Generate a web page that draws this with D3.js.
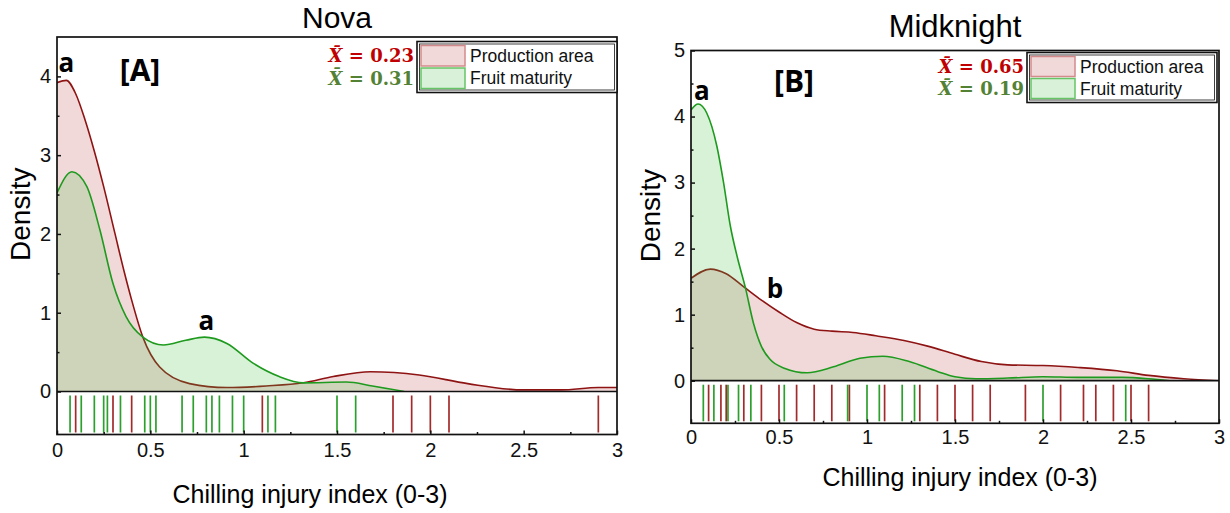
<!DOCTYPE html>
<html>
<head>
<meta charset="utf-8">
<script src="https://cdnjs.cloudflare.com/ajax/libs/d3/7.8.5/d3.min.js"></script>
<style>
  body { margin: 0; background: #fff; }
  svg text { font-family: "Liberation Sans", Arial, sans-serif; }
</style>
</head>
<body>
<div id="visual"></div>
<script>
// ---- data ----
const seriesNames = ["Production area", "Fruit maturity"];
const panelTitles = ["Nova", "Midknight"];
const panelTags = ["[A]", "[B]"];
const xTicks = [0, 0.5, 1, 1.5, 2, 2.5, 3];
const xTickLabels = ["0", "0.5", "1", "1.5", "2", "2.5", "3"];

// Nova density curves
const novaProdX = [0, 0.05, 0.10, 0.15, 0.20, 0.25, 0.31, 0.36, 0.40, 0.46, 0.55, 0.71, 0.91, 1.12, 1.32, 1.48, 1.68, 1.94, 2.2, 2.5, 2.7, 2.9, 3.0];
const novaProdY = [3.92, 3.95, 3.78, 3.45, 3.05, 2.60, 2.01, 1.52, 1.16, 0.69, 0.31, 0.10, 0.05, 0.07, 0.11, 0.19, 0.25, 0.21, 0.10, 0.02, 0.02, 0.05, 0.05];
const novaMatX = [0, 0.08, 0.16, 0.23, 0.30, 0.37, 0.46, 0.57, 0.69, 0.79, 0.91, 1.05, 1.19, 1.32, 1.55, 1.69, 1.86];
const novaMatY = [2.52, 2.79, 2.60, 2.05, 1.37, 0.95, 0.69, 0.59, 0.65, 0.69, 0.61, 0.36, 0.19, 0.11, 0.12, 0.07, 0.0];
// Nova rug (observations)
const novaProdRug = [0.10, 0.30, 0.40, 1.10, 1.80, 1.90, 2.00, 2.10, 2.90];
const novaMatRug = [0.07, 0.13, 0.20, 0.25, 0.27, 0.34, 0.47, 0.50, 0.53, 0.67, 0.73, 0.80, 0.83, 0.87, 0.94, 1.00, 1.13, 1.17, 1.50, 1.60];

// Midknight density curves
const midProdX = [0, 0.11, 0.20, 0.30, 0.40, 0.50, 0.60, 0.70, 0.80, 0.92, 1.05, 1.21, 1.35, 1.50, 1.65, 1.80, 2.0, 2.2, 2.42, 2.6, 2.8, 3.0];
const midProdY = [1.55, 1.69, 1.62, 1.42, 1.22, 1.04, 0.88, 0.78, 0.75, 0.73, 0.68, 0.61, 0.52, 0.40, 0.29, 0.24, 0.23, 0.20, 0.15, 0.08, 0.03, 0.0];
const midMatX = [0, 0.04, 0.09, 0.147, 0.185, 0.223, 0.265, 0.308, 0.355, 0.40, 0.45, 0.53, 0.66, 0.81, 0.96, 1.09, 1.24, 1.40, 1.50, 1.62, 1.80, 2.0, 2.2, 2.45, 2.6, 2.72];
const midMatY = [4.10, 4.19, 4.05, 3.55, 3.0, 2.35, 1.85, 1.42, 0.87, 0.52, 0.32, 0.19, 0.12, 0.21, 0.34, 0.37, 0.29, 0.14, 0.06, 0.03, 0.04, 0.06, 0.05, 0.05, 0.03, 0.0];
// Midknight rug
const midProdRug = [0.10, 0.17, 0.20, 0.30, 0.40, 0.50, 0.60, 0.70, 0.80, 0.90, 1.10, 1.30, 1.40, 1.50, 1.60, 1.70, 1.90, 2.10, 2.23, 2.30, 2.40, 2.50, 2.60];
const midMatRug = [0.07, 0.13, 0.21, 0.27, 0.34, 0.53, 0.89, 1.00, 1.07, 1.20, 1.27, 2.00, 2.47];

// means shown in the legend
const novaMeans = ["0.23", "0.31"];
const midMeans = ["0.65", "0.19"];

// significance letters: [x, y, letter]
const novaLetters = [[0.05, 4.05, "a"], [0.80, 0.78, "a"]];
const midLetters = [[0.062, 4.25, "a"], [0.477, 1.25, "b"]];

const COLORS = {
    prodLine: "#8e1414",
    prodFill: "rgba(200,95,95,0.24)",
    prodRug: "#a32a2a",
    matLine: "#1e9a1e",
    matFill: "rgba(70,195,70,0.21)",
    matRug: "#2ca02c",
    meanProd: "#c00000",
    meanMat: "#548235"
};

const svg = d3.select("#visual")
    .append("svg")
    .attr("width", 1230)
    .attr("height", 513);

function drawPanel(p) {
    let x = d3.scaleLinear().domain([0, 3]).range([p.left, p.right]);
    let y = d3.scaleLinear().domain([0, p.yMax]).range([p.zero, p.top]);
    let g = svg.append("g");

    let clipId = "clip" + p.id;
    g.append("clipPath").attr("id", clipId)
        .append("rect")
        .attr("x", p.left).attr("y", p.top)
        .attr("width", p.right - p.left).attr("height", p.zero - p.top);

    let curves = [
        {xs: p.prodX, ys: p.prodY, fill: COLORS.prodFill, line: COLORS.prodLine},
        {xs: p.matX, ys: p.matY, fill: COLORS.matFill, line: COLORS.matLine}
    ];

    let area = d3.area()
        .x(d => x(d[0]))
        .y0(y(0))
        .y1(d => y(d[1]))
        .curve(d3.curveMonotoneX);
    let line = d3.line()
        .x(d => x(d[0]))
        .y(d => y(d[1]))
        .curve(d3.curveMonotoneX);

    let plot = g.append("g").attr("clip-path", "url(#" + clipId + ")");
    curves.forEach(function (c) {
        let pts = c.xs.map((v, i) => [v, c.ys[i]]);
        plot.append("path").attr("d", area(pts)).attr("fill", c.fill);
        plot.append("path").attr("d", line(pts))
            .attr("fill", "none")
            .attr("stroke", c.line)
            .attr("stroke-width", 1.6);
    });

    // rug strip
    let rugs = [
        {vals: p.prodRug, color: COLORS.prodRug},
        {vals: p.matRug, color: COLORS.matRug}
    ];
    rugs.forEach(function (r) {
        g.selectAll(null)
            .data(r.vals)
            .enter().append("line")
            .attr("x1", d => x(d)).attr("x2", d => x(d))
            .attr("y1", p.zero + 4).attr("y2", p.rugBottom - 2)
            .attr("stroke", r.color)
            .attr("stroke-width", 1.7);
    });

    // frame
    g.append("rect")
        .attr("x", p.left).attr("y", p.top)
        .attr("width", p.right - p.left).attr("height", p.rugBottom - p.top)
        .attr("fill", "none").attr("stroke", "#111").attr("stroke-width", 1.7);
    g.append("line")
        .attr("x1", p.left).attr("x2", p.right)
        .attr("y1", p.zero).attr("y2", p.zero)
        .attr("stroke", "#111").attr("stroke-width", 1.7);

    // y axis, inward ticks
    let yAxis = d3.axisLeft(y).tickValues(p.yTicks).tickFormat(d3.format("d"))
        .tickSize(-4).tickPadding(6);
    let ya = g.append("g").attr("transform", "translate(" + p.left + ",0)").call(yAxis);
    let yMinor = d3.axisLeft(y).tickValues(p.yMinor).tickFormat("").tickSize(-2.5);
    let ym = g.append("g").attr("transform", "translate(" + p.left + ",0)").call(yMinor);

    // x axis at the bottom of the rug strip
    let xAxis = d3.axisBottom(x).tickValues(xTicks)
        .tickFormat((d, i) => xTickLabels[i])
        .tickSize(-4).tickPadding(p.xPad);
    let xa = g.append("g").attr("transform", "translate(0," + p.rugBottom + ")").call(xAxis);
    let xMinor = d3.axisBottom(x).tickValues([0.25, 0.75, 1.25, 1.75, 2.25, 2.75])
        .tickFormat("").tickSize(-2.5);
    let xm = g.append("g").attr("transform", "translate(0," + p.rugBottom + ")").call(xMinor);

    [ya, ym, xa, xm].forEach(function (a) {
        a.select(".domain").remove();
        a.selectAll(".tick line").attr("stroke", "#111").attr("stroke-width", 1.5);
        a.selectAll("text")
            .style("font-size", "20px")
            .style("font-family", "Liberation Sans, Arial, sans-serif")
            .attr("fill", "#111");
    });

    // titles and axis labels
    g.append("text")
        .attr("x", (p.left + p.right) / 2).attr("y", p.titleY)
        .attr("text-anchor", "middle")
        .style("font-size", p.titleSize + "px")
        .text(p.title);

    g.append("text")
        .attr("transform", "translate(" + p.yLabelX + "," + (p.top + p.zero) / 2 + ") rotate(-90)")
        .attr("text-anchor", "middle")
        .attr("dy", "0.35em")
        .style("font-size", "28px")
        .text("Density");

    g.append("text")
        .attr("x", p.xLabelX).attr("y", p.xLabelY)
        .attr("text-anchor", "middle")
        .style("font-size", "25px")
        .text("Chilling injury index (0-3)");

    // panel tag and letters
    g.append("text")
        .attr("x", p.tagX).attr("y", p.tagY)
        .attr("text-anchor", "middle")
        .style("font-family", "Open Sans, sans-serif")
        .style("font-weight", "700")
        .style("font-size", "30px")
        .text(p.tag);

    g.selectAll(null)
        .data(p.letters)
        .enter().append("text")
        .attr("x", d => x(d[0])).attr("y", d => y(d[1]))
        .attr("text-anchor", "middle")
        .style("font-family", "Open Sans, sans-serif")
        .style("font-weight", "700")
        .style("font-size", "26px")
        .text(d => d[2]);

    // legend
    let L = p.legend;
    g.append("rect")
        .attr("x", L.x).attr("y", L.y).attr("width", L.w).attr("height", L.h)
        .attr("fill", "#fff").attr("stroke", "#111").attr("stroke-width", 1.6);
    g.append("rect")
        .attr("x", L.x + 2.5).attr("y", L.y + 2.5).attr("width", L.w - 5).attr("height", L.h - 5)
        .attr("fill", "none").attr("stroke", "#111").attr("stroke-width", 0.8);

    let swFill = ["#f1d9d9", "#d9f1d9"];
    let swStroke = ["#d48a8a", "#66c466"];
    let meanCol = [COLORS.meanProd, COLORS.meanMat];
    seriesNames.forEach(function (name, i) {
        let rowY = L.y + 3 + i * (L.h - 6) / 2;
        let rowH = (L.h - 6) / 2;
        g.append("rect")
            .attr("x", L.x + 4).attr("y", rowY + 1)
            .attr("width", 44).attr("height", rowH - 2)
            .attr("fill", swFill[i]).attr("stroke", swStroke[i]).attr("stroke-width", 1.5);
        g.append("text")
            .attr("x", L.x + 53).attr("y", rowY + rowH / 2)
            .attr("dy", "0.35em")
            .style("font-size", "17.5px")
            .attr("fill", "#111")
            .text(name);
        let t = g.append("text")
            .attr("x", L.x - 3).attr("y", rowY + rowH / 2)
            .attr("dy", "0.35em")
            .attr("text-anchor", "end")
            .style("font-family", "DejaVu Serif, serif")
            .style("font-weight", "700")
            .style("font-size", "18px")
            .attr("fill", meanCol[i]);
        t.append("tspan").style("font-style", "italic").text("X\u0304");
        t.append("tspan").text(" = " + p.means[i]);
    });
}

let panels = [
    {
        id: "A", title: panelTitles[0], tag: panelTags[0],
        left: 57, right: 617, top: 37, zero: 391.5, rugBottom: 434.5,
        yMax: 4.5, yTicks: [0, 1, 2, 3, 4], yMinor: [0.5, 1.5, 2.5, 3.5],
        xPad: 8, titleY: 28, titleSize: 30, yLabelX: 20, xLabelX: 310, xLabelY: 503,
        tagX: 140, tagY: 81,
        prodX: novaProdX, prodY: novaProdY, matX: novaMatX, matY: novaMatY,
        prodRug: novaProdRug, matRug: novaMatRug,
        means: novaMeans, letters: novaLetters,
        legend: {x: 417, y: 41.5, w: 200, h: 51}
    },
    {
        id: "B", title: panelTitles[1], tag: panelTags[1],
        left: 691, right: 1219, top: 50.5, zero: 380.7, rugBottom: 423.3,
        yMax: 5, yTicks: [0, 1, 2, 3, 4, 5], yMinor: [0.5, 1.5, 2.5, 3.5, 4.5],
        xPad: 7, titleY: 37, titleSize: 31, yLabelX: 650, xLabelX: 960, xLabelY: 486,
        tagX: 794, tagY: 92,
        prodX: midProdX, prodY: midProdY, matX: midMatX, matY: midMatY,
        prodRug: midProdRug, matRug: midMatRug,
        means: midMeans, letters: midLetters,
        legend: {x: 1027, y: 52.5, w: 190, h: 50}
    }
];

panels.forEach(drawPanel);
</script>
</body>
</html>
